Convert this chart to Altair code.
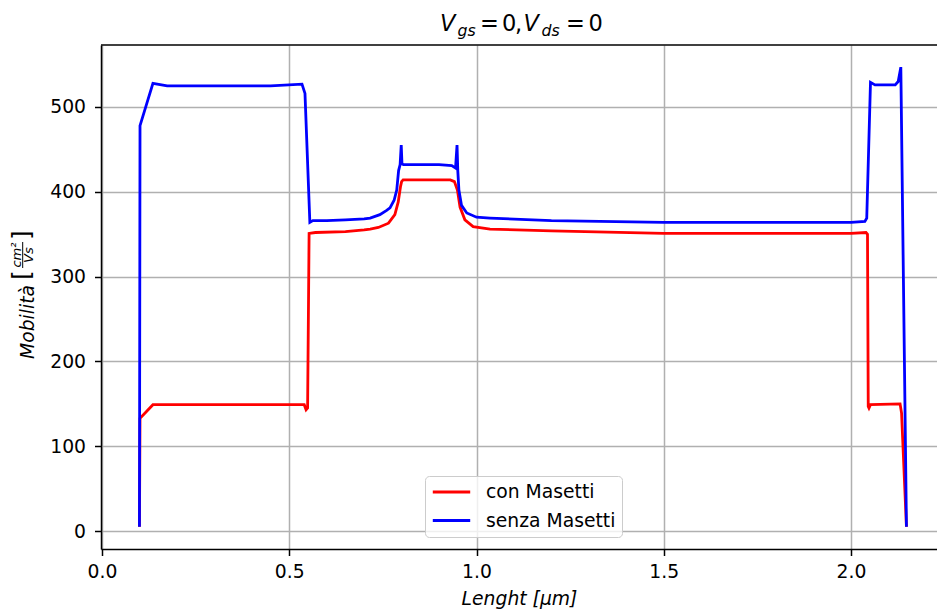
import altair as alt
import pandas as pd

FONT = "DejaVu Sans"

# Mobility along the channel, without the Masetti model
senza_x = [0.100, 0.1015, 0.136, 0.174, 0.300, 0.450, 0.534, 0.542, 0.555, 0.563,
           0.600, 0.650, 0.700, 0.716, 0.742, 0.760, 0.769, 0.780, 0.787, 0.792,
           0.796, 0.799, 0.801, 0.805, 0.850, 0.900, 0.934, 0.944, 0.948, 0.950,
           0.953, 0.960, 0.974, 1.000, 1.036, 1.200, 1.500, 1.800, 2.000, 2.037,
           2.042, 2.052, 2.064, 2.118, 2.126, 2.133, 2.148]
senza_y = [5, 478, 528, 525, 525, 525, 527, 516, 364, 366,
           366, 367, 368, 369, 373, 378, 381, 390, 402, 425,
           432, 455, 433, 432, 432, 432, 431, 428, 455, 425,
           402, 384, 375, 370, 369, 366, 364, 364, 364, 365,
           369, 529, 526, 526, 530, 547, 5]

# Mobility along the channel, with the Masetti model
con_x = [0.100, 0.1015, 0.136, 0.174, 0.540, 0.545, 0.549, 0.553, 0.570, 0.650,
         0.700, 0.716, 0.738, 0.765, 0.782, 0.791, 0.797, 0.800, 0.804, 0.850,
         0.930, 0.941, 0.949, 0.956, 0.969, 0.991, 1.036, 1.200, 1.500, 2.000,
         2.040, 2.044, 2.046, 2.048, 2.052, 2.131, 2.135, 2.148]
con_y = [5, 133, 149, 149, 149, 143, 145, 351, 352, 353,
         355, 356, 358, 363, 373, 388, 406, 412, 414, 414,
         414, 412, 402, 382, 367, 359, 356, 354, 351, 351,
         352, 350, 147, 145, 149, 150, 139, 5]

series = ["con Masetti", "senza Masetti"]
colors = ["red", "blue"]

df = pd.concat([
    pd.DataFrame({"x": con_x, "y": con_y, "serie": series[0], "ord": range(len(con_x))}),
    pd.DataFrame({"x": senza_x, "y": senza_y, "serie": series[1], "ord": range(len(senza_x))}),
], ignore_index=True)

W, H = 836, 504
X_DOM = [-0.00267, 2.2296]
Y_DOM = [-21.2, 573.1]

lines = alt.Chart(df).mark_line(strokeWidth=2.8, clip=True).encode(
    x=alt.X("x:Q",
            scale=alt.Scale(domain=X_DOM, nice=False, zero=False),
            axis=alt.Axis(values=[0, 0.5, 1.0, 1.5, 2.0], format=".1f",
                          labelPadding=7,
                          title="Lenght [μm]", titleFontStyle="italic",
                          titlePadding=8)),
    y=alt.Y("y:Q",
            scale=alt.Scale(domain=Y_DOM, nice=False, zero=False),
            axis=alt.Axis(values=[0, 100, 200, 300, 400, 500], title=None,
                          labelPadding=9)),
    color=alt.Color("serie:N",
                    scale=alt.Scale(domain=series, range=colors),
                    legend=alt.Legend(
                        title=None, orient="none", legendX=324, legendY=431,
                        symbolType="stroke", symbolSize=1400, symbolStrokeWidth=2.8,
                        labelFont=FONT, labelFontSize=18.75, labelColor="black",
                        labelOffset=14, padding=6, rowPadding=8.5, clipHeight=20,
                        fillColor="rgba(255,255,255,0.8)", strokeColor="#cccccc",
                        cornerRadius=4)),
    order="ord:Q",
)

one = alt.Data(values=[{}])

# top spine of the plot frame
top_rule = alt.Chart(one).mark_rule(color="black", strokeWidth=1.5).encode(
    x=alt.value(0), x2=alt.value(W), y=alt.value(0))


def piece(text, x, y, size, italic=False, angle=0, align="left"):
    return alt.Chart(one).mark_text(
        text=text, x=x, y=y, fontSize=size, font=FONT, color="black",
        fontStyle="italic" if italic else "normal", angle=angle,
        align=align, baseline="alphabetic")


# title: V_gs = 0, V_ds = 0
T, S = 22.5, 15.75
title = [
    piece("V", 339, -14, T, italic=True),
    piece("gs", 356.5, -9.5, S, italic=True),
    piece("=", 379, -14, T),
    piece("0", 401, -14, T),
    piece(",", 414, -14, T),
    piece("V", 422.5, -14, T, italic=True),
    piece("ds", 440.5, -9.5, S, italic=True),
    piece("=", 465, -14, T),
    piece("0", 487.5, -14, T),
]

# y label: Mobilità [cm²/Vs]
ylabel = [
    piece("Mobilità", -67, 314, 18.75, italic=True, angle=270),
    piece("[", -71.3, 235, 25, angle=270),
    piece("cm²", -80, 210, 13.1, italic=True, angle=270, align="center"),
    piece("Vs", -68, 210, 13.1, italic=True, angle=270, align="center"),
    piece("]", -71.3, 195, 25, angle=270),
]
frac_bar = alt.Chart(one).mark_rule(color="black", strokeWidth=1).encode(
    x=alt.value(-78.3), y=alt.value(197), y2=alt.value(223))

chart = alt.layer(lines, top_rule, frac_bar, *title, *ylabel).properties(
    width=W, height=H,
    autosize="none",
    padding={"left": 101, "top": 45, "right": 0, "bottom": 63},
).configure_view(stroke=None).configure_axis(
    domainColor="black", domainWidth=1.5,
    tickColor="black", tickWidth=1.5, tickSize=6.5,
    labelFont=FONT, labelFontSize=18.75, labelColor="black", labelFlush=False,
    gridColor="#b0b0b0", gridWidth=1.5,
    titleFont=FONT, titleFontSize=18.75, titleFontWeight="normal", titleColor="black",
)

chart.save("out.html", embed_options={"renderer": "svg", "actions": False})
